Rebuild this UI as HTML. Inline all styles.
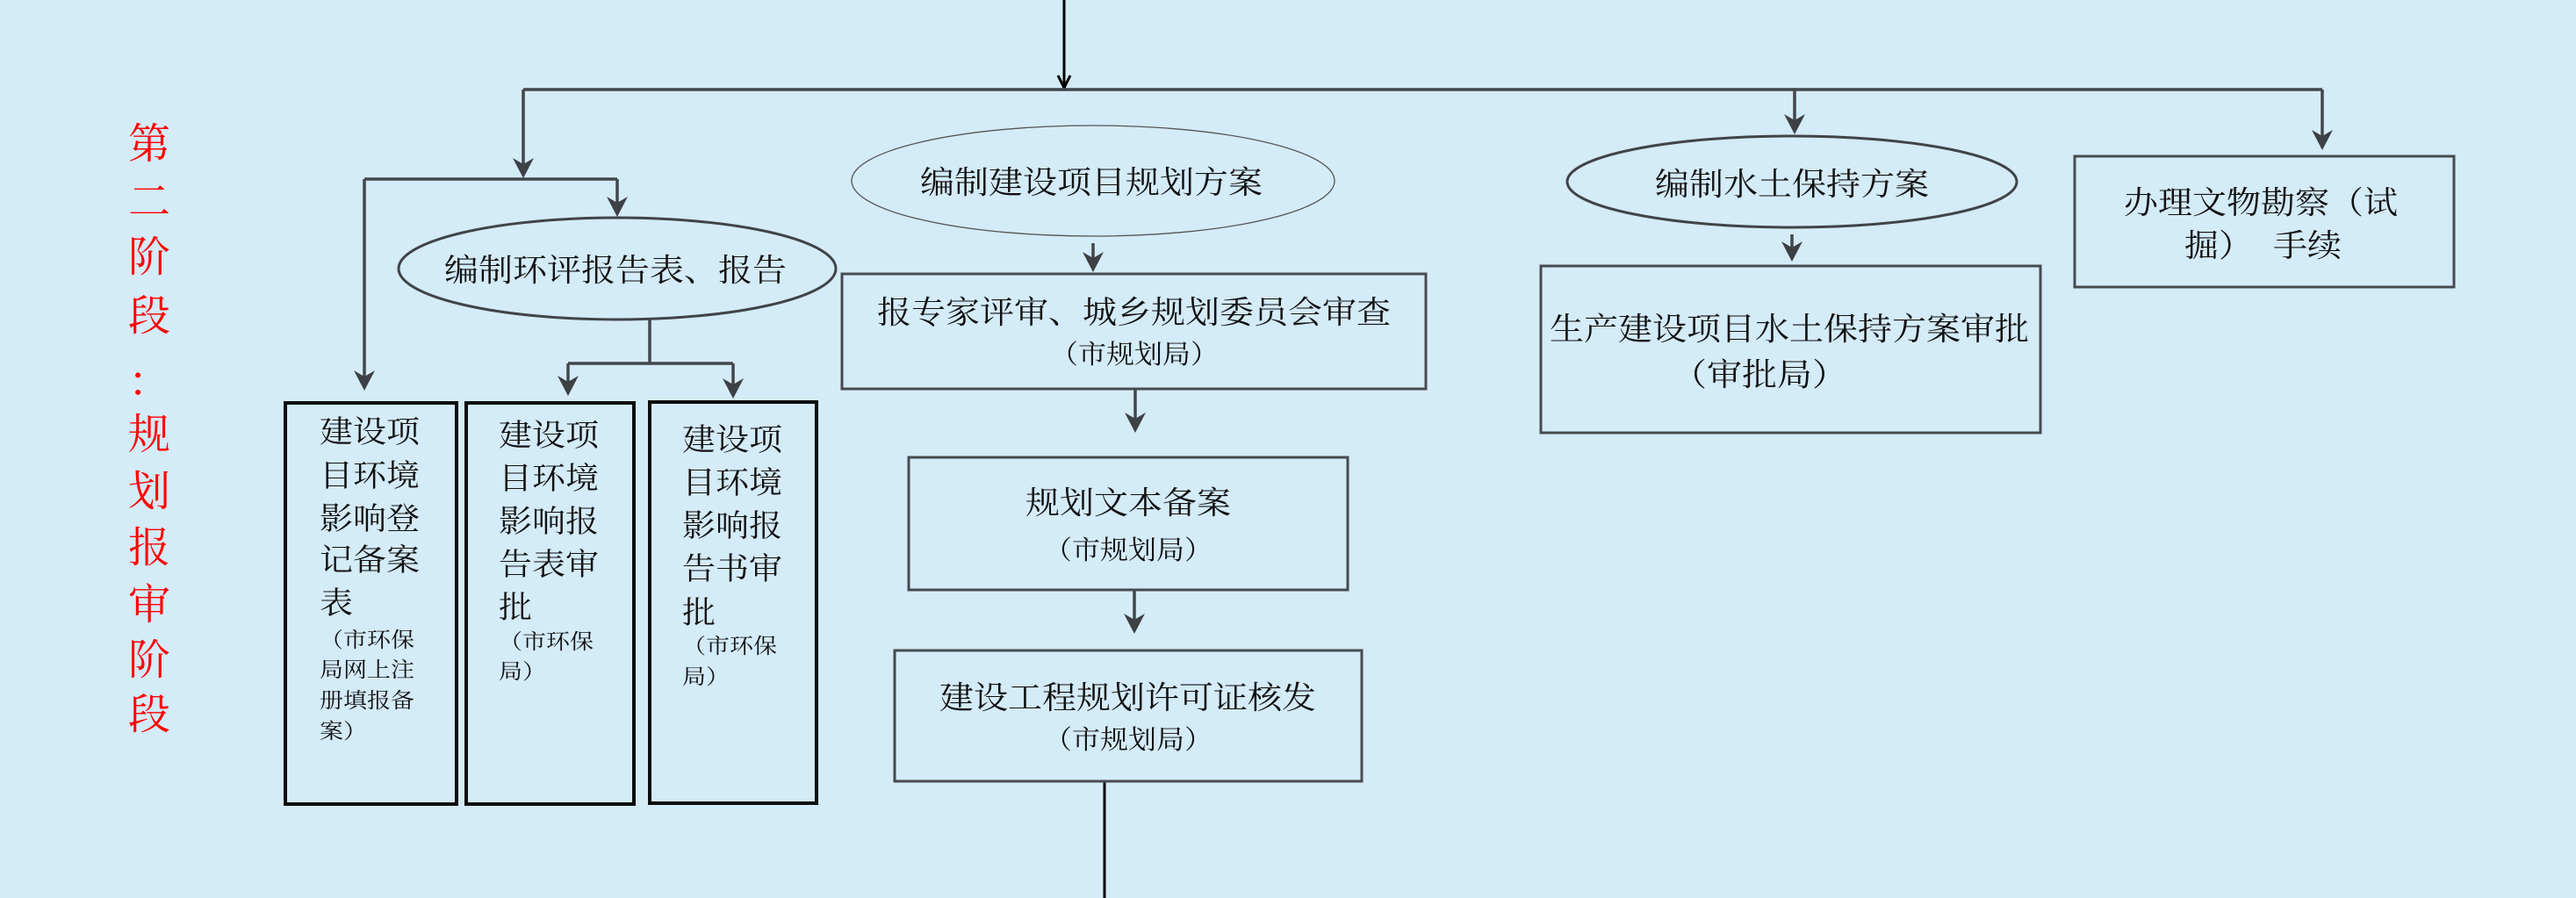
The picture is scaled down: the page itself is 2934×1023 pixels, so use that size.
<!DOCTYPE html>
<html>
<head>
<meta charset="utf-8">
<style>
html,body{margin:0;padding:0;background:#d4ebf8;}
svg{display:block;}
text{font-family:"Liberation Serif","Noto Serif CJK SC",serif;fill:#111;}
.r{fill:#f00;font-size:48px;}
</style>
</head>
<body>
<svg width="2934" height="1023" viewBox="0 0 2934 1023" xmlns="http://www.w3.org/2000/svg">
<rect x="0" y="0" width="2934" height="1023" fill="#d4ebf8"/>

<!-- red vertical title -->
<text class="r" x="146" y="180">第</text>
<text class="r" x="146" y="246">二</text>
<text class="r" x="146" y="309">阶</text>
<text class="r" x="146" y="376">段</text>
<text class="r" x="146" y="451">：</text>
<text class="r" x="146" y="511">规</text>
<text class="r" x="146" y="576">划</text>
<text class="r" x="146" y="640">报</text>
<text class="r" x="146" y="705">审</text>
<text class="r" x="146" y="768">阶</text>
<text class="r" x="146" y="830">段</text>

<!-- thin black input arrow -->
<line x1="1212" y1="0" x2="1212" y2="100" stroke="#000" stroke-width="3"/>
<polyline points="1205,86 1212,100 1219,86" fill="none" stroke="#000" stroke-width="3"/>

<!-- connectors -->
<g stroke="#42474c" stroke-width="3.5" fill="none">
  <path d="M596,102 H2645"/>
  <path d="M596,102 V190"/>
  <path d="M415,204 H703"/>
  <path d="M415,204 V435"/>
  <path d="M703,204 V237"/>
  <path d="M740,364 V414"/>
  <path d="M647,414 H835"/>
  <path d="M647,414 V441"/>
  <path d="M835,414 V444"/>
  <path d="M1245,277 V300"/>
  <path d="M1293,443 V483"/>
  <path d="M1292,672 V712"/>
  <path d="M2044,102 V143"/>
  <path d="M2041,267 V288"/>
  <path d="M2645,102 V161"/>
</g>
<g fill="#3d4044">
  <polygon points="596,203 584,180 596,187 608,180"/>
  <polygon points="415,445 403,422 415,429 427,422"/>
  <polygon points="703,247 691,224 703,231 715,224"/>
  <polygon points="647,451 635,428 647,435 659,428"/>
  <polygon points="835,454 823,431 835,438 847,431"/>
  <polygon points="1245,310 1233,287 1245,294 1257,287"/>
  <polygon points="1293,493 1281,470 1293,477 1305,470"/>
  <polygon points="1292,722 1280,699 1292,706 1304,699"/>
  <polygon points="2044,153 2032,130 2044,137 2056,130"/>
  <polygon points="2041,298 2029,275 2041,282 2053,275"/>
  <polygon points="2645,171 2633,148 2645,155 2657,148"/>
</g>

<!-- bottom thin black line -->
<line x1="1258" y1="890" x2="1258" y2="1023" stroke="#000" stroke-width="3"/>

<!-- ellipses -->
<ellipse cx="703" cy="306" rx="249" ry="58" fill="none" stroke="#404448" stroke-width="3"/>
<ellipse cx="1245" cy="206" rx="275" ry="63" fill="none" stroke="#555" stroke-width="1.3"/>
<ellipse cx="2041" cy="207" rx="256" ry="52" fill="none" stroke="#404448" stroke-width="3"/>

<!-- boxes thin gray -->
<g fill="none" stroke="#464b50" stroke-width="3">
  <rect x="959" y="312" width="665" height="131"/>
  <rect x="1035" y="521" width="500" height="151"/>
  <rect x="1019" y="741" width="532" height="149"/>
  <rect x="1755" y="303" width="569" height="190"/>
  <rect x="2363" y="178" width="432" height="149"/>
</g>
<!-- boxes thick black -->
<g fill="none" stroke="#0c0c0c" stroke-width="4">
  <rect x="325" y="459" width="195" height="457"/>
  <rect x="531" y="459" width="191" height="457"/>
  <rect x="740" y="458" width="190" height="457"/>
</g>

<!-- ellipse texts -->
<text x="506" y="320" font-size="36" textLength="390" lengthAdjust="spacingAndGlyphs">编制环评报告表、报告</text>
<text x="1048" y="220" font-size="36" textLength="390" lengthAdjust="spacingAndGlyphs">编制建设项目规划方案</text>
<text x="1885" y="222" font-size="36" textLength="312" lengthAdjust="spacingAndGlyphs">编制水土保持方案</text>

<!-- planning column -->
<text x="999" y="368" font-size="36" textLength="585" lengthAdjust="spacingAndGlyphs">报专家评审、城乡规划委员会审查</text>
<text x="1196" y="414" font-size="30" textLength="192" lengthAdjust="spacingAndGlyphs">（市规划局）</text>
<text x="1168" y="585" font-size="36" textLength="234" lengthAdjust="spacingAndGlyphs">规划文本备案</text>
<text x="1189" y="637" font-size="30" textLength="192" lengthAdjust="spacingAndGlyphs">（市规划局）</text>
<text x="1070" y="807" font-size="36" textLength="429" lengthAdjust="spacingAndGlyphs">建设工程规划许可证核发</text>
<text x="1189" y="853" font-size="30" textLength="192" lengthAdjust="spacingAndGlyphs">（市规划局）</text>

<!-- water/soil -->
<text x="1765" y="387" font-size="36" textLength="546" lengthAdjust="spacingAndGlyphs">生产建设项目水土保持方案审批</text>
<text x="1904" y="439" font-size="36" textLength="200" lengthAdjust="spacingAndGlyphs">（审批局）</text>

<!-- cultural relics -->
<text x="2419" y="243" font-size="36" textLength="312" lengthAdjust="spacingAndGlyphs">办理文物勘察（试</text>
<text x="2488" y="292" font-size="36" textLength="78" lengthAdjust="spacingAndGlyphs">掘）</text>
<text x="2589" y="292" font-size="36" textLength="78" lengthAdjust="spacingAndGlyphs">手续</text>

<!-- Box A -->
<g font-size="35">
<text x="364" y="504" textLength="114" lengthAdjust="spacingAndGlyphs">建设项</text>
<text x="364" y="554" textLength="114" lengthAdjust="spacingAndGlyphs">目环境</text>
<text x="364" y="603" textLength="114" lengthAdjust="spacingAndGlyphs">影响登</text>
<text x="364" y="650" textLength="114" lengthAdjust="spacingAndGlyphs">记备案</text>
<text x="364" y="699" textLength="38" lengthAdjust="spacingAndGlyphs">表</text>
</g>
<g font-size="24">
<text x="364" y="737" textLength="108" lengthAdjust="spacingAndGlyphs">（市环保</text>
<text x="364" y="771" textLength="108" lengthAdjust="spacingAndGlyphs">局网上注</text>
<text x="364" y="806" textLength="108" lengthAdjust="spacingAndGlyphs">册填报备</text>
<text x="364" y="841" textLength="54" lengthAdjust="spacingAndGlyphs">案）</text>
</g>

<!-- Box B -->
<g font-size="35">
<text x="568" y="508" textLength="114" lengthAdjust="spacingAndGlyphs">建设项</text>
<text x="568" y="557" textLength="114" lengthAdjust="spacingAndGlyphs">目环境</text>
<text x="568" y="606" textLength="114" lengthAdjust="spacingAndGlyphs">影响报</text>
<text x="568" y="655" textLength="114" lengthAdjust="spacingAndGlyphs">告表审</text>
<text x="568" y="704" textLength="38" lengthAdjust="spacingAndGlyphs">批</text>
</g>
<g font-size="24">
<text x="568" y="739" textLength="108" lengthAdjust="spacingAndGlyphs">（市环保</text>
<text x="568" y="773" textLength="54" lengthAdjust="spacingAndGlyphs">局）</text>
</g>

<!-- Box C -->
<g font-size="35">
<text x="777" y="513" textLength="114" lengthAdjust="spacingAndGlyphs">建设项</text>
<text x="777" y="562" textLength="114" lengthAdjust="spacingAndGlyphs">目环境</text>
<text x="777" y="611" textLength="114" lengthAdjust="spacingAndGlyphs">影响报</text>
<text x="777" y="660" textLength="114" lengthAdjust="spacingAndGlyphs">告书审</text>
<text x="777" y="710" textLength="38" lengthAdjust="spacingAndGlyphs">批</text>
</g>
<g font-size="24">
<text x="777" y="744" textLength="108" lengthAdjust="spacingAndGlyphs">（市环保</text>
<text x="777" y="779" textLength="54" lengthAdjust="spacingAndGlyphs">局）</text>
</g>
</svg>
</body>
</html>
